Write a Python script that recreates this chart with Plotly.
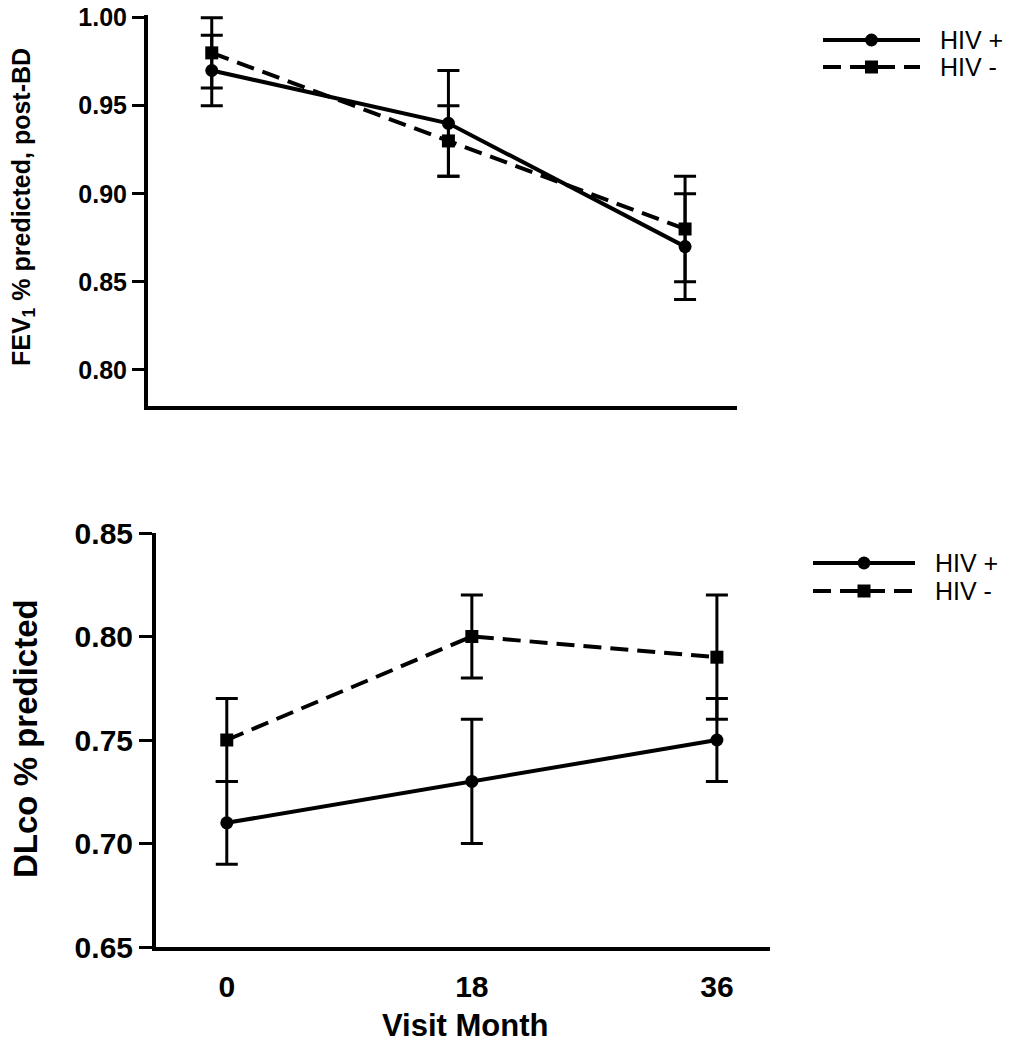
import plotly.graph_objects as go

# ---------------- data ----------------
months = [0, 18, 36]
x_tick_labels = ["0", "18", "36"]
series_names = ["HIV +", "HIV -"]

fev_hiv_pos = [0.97, 0.94, 0.87]
fev_hiv_pos_err = [0.02, 0.03, 0.03]
fev_hiv_neg = [0.98, 0.93, 0.88]
fev_hiv_neg_err = [0.02, 0.02, 0.03]

dlco_hiv_pos = [0.71, 0.73, 0.75]
dlco_hiv_pos_err = [0.02, 0.03, 0.02]
dlco_hiv_neg = [0.75, 0.80, 0.79]
dlco_hiv_neg_err = [0.02, 0.02, 0.03]

fev_ticks = [0.80, 0.85, 0.90, 0.95, 1.00]
dlco_ticks = [0.65, 0.70, 0.75, 0.80, 0.85]

# ---------------- layout helpers ----------------
OFF = 8                      # default page body margin
W, H = 1023 - 2 * OFF, 1050 - 2 * OFF
def px(x):
    return (x - OFF) / W
def py(y):
    return 1 - (y - OFF) / H

FONT = "Liberation Sans, Arial, Helvetica, sans-serif"
BLACK = "#000000"
DASH = "18px,9px"


def add_series(fig, y, err, dashed, xa, ya, cap):
    fig.add_trace(go.Scatter(
        x=months, y=y, xaxis=xa, yaxis=ya,
        mode="lines+markers",
        line=dict(color=BLACK, width=4, dash=DASH if dashed else "solid"),
        marker=dict(symbol="square" if dashed else "circle", size=13, color=BLACK),
        error_y=dict(type="data", array=err, visible=True, color=BLACK,
                     thickness=3, width=cap),
        showlegend=False, hoverinfo="skip", cliponaxis=False,
    ))


fig = go.Figure()
add_series(fig, fev_hiv_pos, fev_hiv_pos_err, False, "x", "y", 11)
add_series(fig, fev_hiv_neg, fev_hiv_neg_err, True, "x", "y", 11)
add_series(fig, dlco_hiv_pos, dlco_hiv_pos_err, False, "x2", "y2", 11)
add_series(fig, dlco_hiv_neg, dlco_hiv_neg_err, True, "x2", "y2", 11)

axis_common = dict(showgrid=False, zeroline=False, showline=True,
                   linecolor=BLACK, linewidth=4, automargin=False,
                   ticklabeloverflow="allow")

fig.update_layout(
    width=W, height=H,
    margin=dict(l=0, r=0, t=0, b=0, autoexpand=False),
    paper_bgcolor="white", plot_bgcolor="white",
    showlegend=False,
    xaxis=dict(domain=[px(148), px(737)], range=[-4.85, 39.95], anchor="y",
               showticklabels=False, ticks="", **axis_common),
    yaxis=dict(domain=[py(406), py(15)], range=[0.7795, 1.0015], anchor="x",
               tickvals=fev_ticks, ticktext=[f"{v:.2f}" for v in fev_ticks],
               ticks="outside", ticklen=12, tickwidth=3, tickcolor=BLACK,
               tickfont=dict(family=FONT, size=25, color=BLACK, weight="bold"),
               **axis_common),
    xaxis2=dict(domain=[px(156), px(770)], range=[-5.2, 39.9], anchor="y2",
                tickvals=months, ticktext=x_tick_labels, ticks="",
                ticklabelstandoff=10,
                tickfont=dict(family=FONT, size=30, color=BLACK, weight="bold"),
                **axis_common),
    yaxis2=dict(domain=[py(947), py(533)], range=[0.65, 0.85], anchor="x2",
                tickvals=dlco_ticks, ticktext=[f"{v:.2f}" for v in dlco_ticks],
                ticks="outside", ticklen=13, tickwidth=3, tickcolor=BLACK,
                tickfont=dict(family=FONT, size=30, color=BLACK, weight="bold"),
                **axis_common),
)

annotations = [
    dict(text="FEV<sub>1</sub> % predicted, post-BD", x=px(23), y=py(207),
         textangle=-90, font=dict(family=FONT, size=25, color=BLACK, weight="bold")),
    dict(text="DLco % predicted", x=px(25), y=py(739),
         textangle=-90, font=dict(family=FONT, size=33, color=BLACK, weight="bold")),
    dict(text="Visit Month", x=px(465), y=py(1025),
         font=dict(family=FONT, size=31, color=BLACK, weight="bold")),
]
for a in annotations:
    a.update(xref="paper", yref="paper", showarrow=False,
             xanchor="center", yanchor="middle")

shapes = []
# custom legends (top and bottom panels)
legend_rows = [(40, 67), (563, 591)]
for (y_pos, y_neg), (lx0, lx1, tx) in zip(legend_rows, [(823, 920, 938), (813, 915, 933)]):
    for name, yy, dashed in [(series_names[0], y_pos, False), (series_names[1], y_neg, True)]:
        shapes.append(dict(type="line", xref="paper", yref="paper",
                           x0=px(lx0), x1=px(lx1), y0=py(yy), y1=py(yy),
                           line=dict(color=BLACK, width=4,
                                     dash=DASH if dashed else "solid")))
        cx = (lx0 + lx1) / 2
        r = 6.5
        shapes.append(dict(type="rect" if dashed else "circle",
                           xref="paper", yref="paper",
                           x0=px(cx - r), x1=px(cx + r), y0=py(yy + r), y1=py(yy - r),
                           fillcolor=BLACK, line=dict(width=0)))
        annotations.append(dict(text=name, x=px(tx), y=py(yy), xref="paper", yref="paper",
                                showarrow=False, xanchor="left", yanchor="middle",
                                font=dict(family=FONT, size=25, color=BLACK)))

fig.update_layout(annotations=annotations, shapes=shapes)

fig.write_html("out.html")
